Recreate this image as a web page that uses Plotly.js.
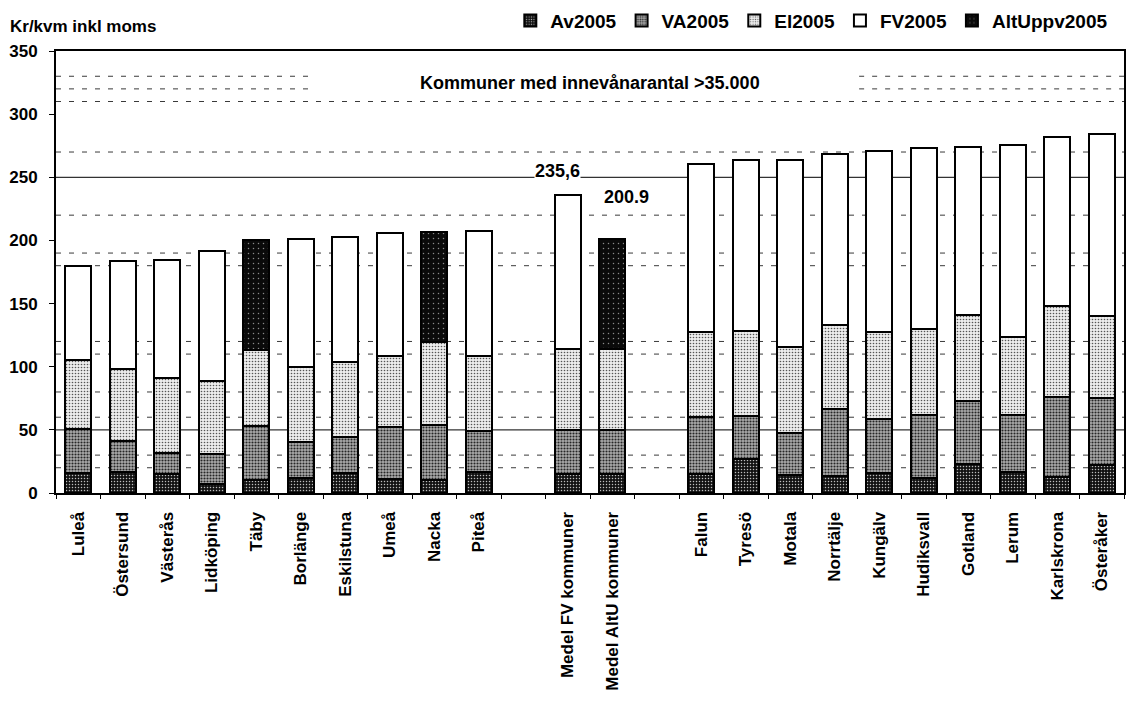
<!DOCTYPE html>
<html>
<head>
<meta charset="utf-8">
<script src="https://cdn.plot.ly/plotly-3.0.1.min.js"></script>
<style>html,body{margin:0;padding:0;background:#fff;}#chart{width:1127px;height:702px;}</style>
</head>
<body>
<div id="chart"></div>
<script>
// ---- data ----
const categories = ["Luleå","Östersund","Västerås","Lidköping","Täby","Borlänge","Eskilstuna","Umeå","Nacka","Piteå",
  " ","Medel FV kommuner","Medel AltU kommuner","  ",
  "Falun","Tyresö","Motala","Norrtälje","Kungälv","Hudiksvall","Gotland","Lerum","Karlskrona","Österåker"];
const seriesNames = ["Av2005","VA2005","El2005","FV2005","AltUppv2005"];
const av2005 = [16,16.8,15,7.4,10,11.7,15.5,11.4,10.5,16.9, null,15.3,15.2,null, 14.9,27.2,14.6,13.2,15.7,11.7,22.8,16.6,12.5,22.4];
const va2005 = [34.3,24.4,16.8,23.6,43.3,28.6,28.6,40.7,43.4,32.3, null,34.7,34.7,null, 45.5,34.1,32.9,53.1,42.8,49.9,50.4,45.2,63.9,52.5];
const el2005 = [55,56.9,59.6,57.8,60.1,59.6,59.4,56.3,65.7,59.4, null,64.4,64.5,null, 66.7,67.3,68.3,66.4,68.6,68.3,67.8,61.8,71.9,64.9];
const fv2005 = [74.4,85.6,92.8,103.2,null,101.4,99.6,97.5,null,98.8, null,121.2,null,null, 133.5,135,148,135.9,143.4,143.5,133,151.9,133.5,144.2];
const altUppv2005 = [null,null,null,null,86.6,null,null,null,87.2,null, null,null,86.5,null, null,null,null,null,null,null,null,null,null,null];
const meanCategories = ["Medel FV kommuner","Medel AltU kommuner"];
const meanLabels = ["235,6","200.9"];
const yTicks = [0,50,100,150,200,250,300,350];
const solidGrid = [50,250];
const dashedGrid = [20,30,60,80,110,120,180,190,220,270,310];
const upperDashedGrid = [320,330];
const noteText = "Kommuner med innevånarantal >35.000";
const yTitleText = "Kr/kvm inkl moms";

// ---- styles ----
const FONT = "Liberation Sans, Arial, sans-serif";
const styles = [
  {color:'#2a2a2a', pattern:{shape:'.', bgcolor:'#121212', fgcolor:'#bdbdbd', size:3, solidity:0.2}},
  {color:'#999999', pattern:{shape:'.', bgcolor:'#ababab', fgcolor:'#262626', size:3, solidity:0.38}},
  {color:'#dddddd', pattern:{shape:'.', bgcolor:'#ececec', fgcolor:'#555555', size:3, solidity:0.24}},
  {color:'#ffffff'},
  {color:'#0c0c0c', pattern:{shape:'.', bgcolor:'#0a0a0a', fgcolor:'#8a8a8a', size:5, solidity:0.07}}
];
const seriesValues = [av2005, va2005, el2005, fv2005, altUppv2005];

const traces = seriesValues.map((vals, i) => ({
  type:'bar',
  name: seriesNames[i],
  x: categories,
  y: vals,
  marker: Object.assign({line:{color:'#000', width:2}}, styles[i]),
  hoverinfo:'x+y+name'
}));

const shapes = [];
dashedGrid.forEach(v => shapes.push({type:'line', xref:'paper', x0:0, x1:1, yref:'y', y0:v, y1:v,
  line:{color:'#3a3a3a', width:1, dash:'5px,8px'}, layer:'below'}));
upperDashedGrid.forEach(v => {
  shapes.push({type:'line', xref:'paper', x0:0, x1:0.243, yref:'y', y0:v, y1:v,
    line:{color:'#3a3a3a', width:1, dash:'5px,8px'}, layer:'below'});
  shapes.push({type:'line', xref:'paper', x0:0.752, x1:1, yref:'y', y0:v, y1:v,
    line:{color:'#3a3a3a', width:1, dash:'5px,8px'}, layer:'below'});
});
solidGrid.forEach(v => shapes.push({type:'line', xref:'paper', x0:0, x1:1, yref:'y', y0:v, y1:v,
  line:{color:'#333', width:1.3}, layer:'below'}));

const annotations = [
  {xref:'paper', yref:'paper', x:-0.045, y:1.055, xanchor:'left', yanchor:'middle', showarrow:false,
   text:yTitleText, font:{family:FONT, size:17, color:'#000', weight:'bold'}},
  {xref:'paper', yref:'y', x:0.5, y:325, xanchor:'center', yanchor:'middle', showarrow:false,
   text:noteText, font:{family:FONT, size:18, color:'#000', weight:'bold'}},
  {xref:'x', yref:'y', x:meanCategories[0], y:250, xshift:-10, yshift:6, xanchor:'center', yanchor:'middle', showarrow:false,
   text:meanLabels[0], bgcolor:'#fff', borderpad:0, font:{family:FONT, size:18, color:'#000', weight:'bold'}},
  {xref:'x', yref:'y', x:meanCategories[1], y:234, xshift:14, xanchor:'center', yanchor:'middle', showarrow:false,
   text:meanLabels[1], font:{family:FONT, size:18, color:'#000', weight:'bold'}}
];

const layout = {
  width:1127, height:702,
  margin:{l:56, r:3, t:50, b:209},
  paper_bgcolor:'#fff', plot_bgcolor:'#fff',
  barmode:'stack', bargap:0.42,
  showlegend:true,
  legend:{orientation:'h', x:0.99, xanchor:'right', y:1.066, yanchor:'middle', xref:'paper', yref:'paper',
    font:{family:FONT, size:19, color:'#000', weight:'bold'}, itemwidth:30, traceorder:'normal',
    bgcolor:'rgba(0,0,0,0)', tracegroupgap:0},
  xaxis:{type:'category', categoryorder:'array', categoryarray:categories,
    showline:true, linecolor:'#000', linewidth:2, mirror:true,
    ticks:'outside', tickson:'boundaries', ticklen:4, tickcolor:'#000', tickwidth:1,
    tickangle:-90, ticklabelstandoff:10,
    tickfont:{family:FONT, size:17, color:'#000', weight:'bold'},
    showgrid:false, zeroline:false, fixedrange:true},
  yaxis:{range:[0,350], tickvals:yTicks, ticktext:yTicks.map(String),
    showline:true, linecolor:'#000', linewidth:2, mirror:true,
    ticks:'outside', ticklen:5, tickcolor:'#000', tickwidth:1, ticklabelstandoff:8,
    tickfont:{family:FONT, size:17, color:'#000', weight:'bold'},
    showgrid:false, zeroline:false, fixedrange:true},
  shapes: shapes,
  annotations: annotations
};

Plotly.newPlot('chart', traces, layout, {displayModeBar:false, staticPlot:true});
</script>
</body>
</html>
